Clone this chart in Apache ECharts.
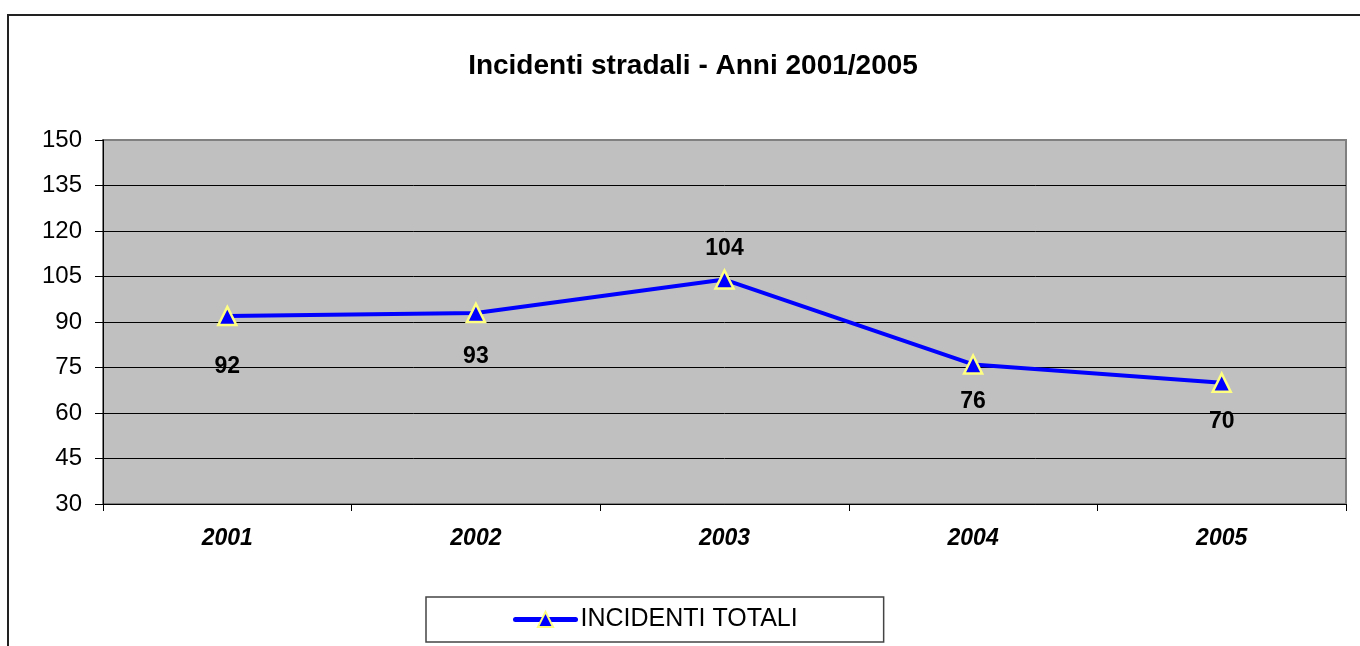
<!DOCTYPE html>
<html>
<head>
<meta charset="utf-8">
<script src="https://cdn.jsdelivr.net/npm/echarts@6/dist/echarts.min.js"></script>
<style>
  html, body { margin: 0; padding: 0; background: #fff; }
  #chart { width: 1360px; height: 646px; }
</style>
</head>
<body>
<div id="chart"></div>
<script>
// Road accidents per year, 2001-2005
const years = ['2001', '2002', '2003', '2004', '2005'];
const incidents = [92, 93, 104, 76, 70];
const labelSides = ['bottom', 'bottom', 'top', 'bottom', 'bottom'];
const labelGaps = [29, 22, 9, 15, 17];
const yTicks = { min: 30, max: 150, step: 15 };

const FONT = '"Liberation Sans", Arial, sans-serif';

const seriesData = incidents.map((v, i) => ({
  value: v,
  label: { position: labelSides[i], distance: labelGaps[i] }
}));

const chart = echarts.init(document.getElementById('chart'), null, { renderer: 'canvas' });

chart.setOption({
  animation: false,
  backgroundColor: '#fff',
  textStyle: { fontFamily: FONT, color: '#000' },
  graphic: [{
    type: 'rect',
    shape: { x: 8, y: 15, width: 1362, height: 700 },
    style: { fill: 'none', stroke: '#222', lineWidth: 2 },
    silent: true,
    z: -10
  }],
  title: {
    text: 'Incidenti stradali - Anni 2001/2005',
    left: 688,
    textAlign: 'center',
    top: 47,
    textStyle: { fontFamily: FONT, fontSize: 28, fontWeight: 'bold', color: '#000' }
  },
  grid: {
    left: 103, top: 140, right: 14, bottom: 142,
    show: true,
    backgroundColor: '#c0c0c0',
    borderColor: '#808080',
    borderWidth: 2
  },
  legend: {
    left: 426,
    top: 597,
    orient: 'horizontal',
    padding: [10, 86, 10, 87],
    borderColor: '#444',
    borderWidth: 1.5,
    backgroundColor: '#fff',
    itemWidth: 60,
    itemHeight: 19,
    itemGap: 5,
    lineStyle: { width: 5, cap: 'round' },
    textStyle: { fontFamily: FONT, fontSize: 25, color: '#000' },
    data: ['INCIDENTI TOTALI']
  },
  xAxis: {
    type: 'category',
    data: years,
    boundaryGap: true,
    axisLine: { show: true, lineStyle: { color: '#000', width: 1 } },
    axisTick: { show: true, length: 7, interval: 0, lineStyle: { color: '#000' } },
    axisLabel: {
      margin: 23,
      fontFamily: FONT,
      fontSize: 23,
      fontWeight: 'bold',
      fontStyle: 'italic',
      color: '#000'
    },
    splitLine: { show: false }
  },
  yAxis: {
    type: 'value',
    min: yTicks.min,
    max: yTicks.max,
    interval: yTicks.step,
    axisLine: { show: true, lineStyle: { color: '#000', width: 1 } },
    axisTick: { show: true, length: 8, lineStyle: { color: '#000' } },
    axisLabel: { margin: 21, fontFamily: FONT, fontSize: 24, color: '#000' },
    splitLine: { show: true, showMaxLine: false, lineStyle: { color: '#000', width: 1 } }
  },
  series: [{
    name: 'INCIDENTI TOTALI',
    type: 'line',
    data: seriesData,
    symbol: 'triangle',
    symbolSize: 18,
    lineStyle: { color: '#0000ff', width: 4, cap: 'round' },
    itemStyle: { color: '#0000ff', borderColor: '#ffff80', borderWidth: 2.5 },
    label: {
      show: true,
      fontFamily: FONT,
      fontSize: 23,
      fontWeight: 'bold',
      color: '#000'
    },
    z: 5
  }]
});
</script>
</body>
</html>
